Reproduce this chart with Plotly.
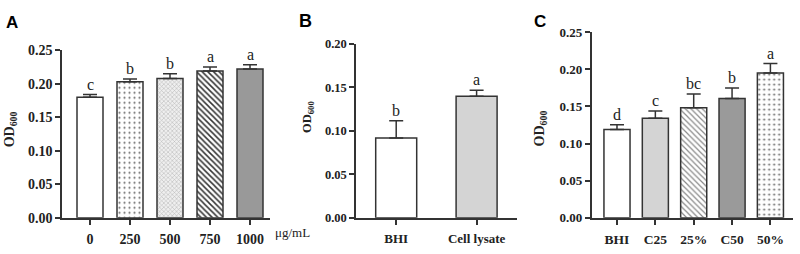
import plotly.graph_objects as go

# ---- data ----
a_cats = ["0", "250", "500", "750", "1000"]
a_vals = [0.180, 0.203, 0.208, 0.219, 0.222]
a_errs = [0.004, 0.004, 0.007, 0.006, 0.0065]
a_letters = ["c", "b", "b", "a", "a"]

b_cats = ["BHI", "Cell lysate"]
b_vals = [0.0917, 0.1397]
b_errs = [0.020, 0.007]
b_letters = ["b", "a"]

c_cats = ["BHI", "C25", "25%", "C50", "50%"]
c_vals = [0.119, 0.134, 0.148, 0.1605, 0.195]
c_errs = [0.0063, 0.0097, 0.0186, 0.0144, 0.0127]
c_letters = ["d", "c", "bc", "b", "a"]

SERIF = "Liberation Serif"
SANS = "Liberation Sans"
DARK = "#333333"

# bar styles: (fill colour, pattern shape, pattern colour, size, solidity)
a_styles = [("white", "", None, 0, 0),
            ("white", ".", "#6a6a6a", 5, 0.14),
            ("#efefef", "x", "#b0b0b0", 3, 0.3),
            ("white", "\\", "#333333", 4, 0.38),
            ("#999999", "", None, 0, 0)]
b_styles = [("white", "", None, 0, 0),
            ("#d4d4d4", "", None, 0, 0)]
c_styles = [("white", "", None, 0, 0),
            ("#d4d4d4", "", None, 0, 0),
            ("white", "\\", "#8a8a8a", 4, 0.3),
            ("#9a9a9a", "", None, 0, 0),
            ("white", ".", "#6a6a6a", 5, 0.14)]

fig = go.Figure()


def add_panel(cats, vals, errs, xa, ya, styles, width):
    for i, (c, v, e, st) in enumerate(zip(cats, vals, errs, styles)):
        color, shape, fg, size, sol = st
        marker = dict(color=color, line=dict(color=DARK, width=1.5))
        if shape:
            marker["pattern"] = dict(shape=shape, fgcolor=fg, bgcolor=color,
                                     size=size, solidity=sol, fillmode="replace")
        fig.add_trace(go.Bar(
            x=[i], y=[v], xaxis=xa, yaxis=ya, width=width, marker=marker,
            error_y=dict(type="data", symmetric=False, array=[e], arrayminus=[0],
                         color=DARK, thickness=1.5, width=7),
            showlegend=False, hoverinfo="skip",
        ))


add_panel(a_cats, a_vals, a_errs, "x", "y", a_styles, 0.65)
add_panel(b_cats, b_vals, b_errs, "x2", "y2", b_styles, 0.51)
add_panel(c_cats, c_vals, c_errs, "x3", "y3", c_styles, 0.68)

ax_common = dict(showline=True, linecolor=DARK, linewidth=1.5, ticks="outside",
                 ticklen=5, tickwidth=1.5, tickcolor=DARK, showgrid=False,
                 zeroline=False, fixedrange=True)


def xaxis(domain, rng, anchor, size, cats):
    return dict(ax_common, domain=domain, range=rng, anchor=anchor,
                tickmode="array", tickvals=list(range(len(cats))), ticktext=cats,
                ticklabelstandoff=3,
                tickfont=dict(family=SERIF, size=size, color="#222", weight="bold"))


def yaxis(domain, top, anchor, size):
    return dict(ax_common, domain=domain, range=[0, top], anchor=anchor, dtick=0.05,
                tickformat=".2f",
                tickfont=dict(family=SERIF, size=size, color="#222", weight="bold"))


fig.update_layout(
    width=800, height=254, margin=dict(l=0, r=0, t=0, b=0),
    paper_bgcolor="white", plot_bgcolor="white", barmode="overlay",
    xaxis=xaxis([0.0775, 0.3375], [-0.7, 4.5], "y", 14, a_cats),
    yaxis=yaxis([0.1181, 0.8189], 0.25, "x", 14),
    xaxis2=xaxis([0.445, 0.646], [-0.5, 1.5], "y2", 13, b_cats),
    yaxis2=yaxis([0.1181, 0.8453], 0.20, "x2", 12.5),
    xaxis3=xaxis([0.7396, 0.9913], [-0.66, 4.59], "y3", 13.5, c_cats),
    yaxis3=yaxis([0.1181, 0.8949], 0.25, "x3", 13),
)

ann = []
for cats, vals, errs, lets, xr, yr in [
    (a_cats, a_vals, a_errs, a_letters, "x", "y"),
    (b_cats, b_vals, b_errs, b_letters, "x2", "y2"),
    (c_cats, c_vals, c_errs, c_letters, "x3", "y3"),
]:
    for i, (v, e, l) in enumerate(zip(vals, errs, lets)):
        ann.append(dict(x=i, y=v + e, xref=xr, yref=yr, text=l, showarrow=False,
                        yanchor="bottom", yshift=0,
                        font=dict(family=SERIF, size=16, color="#222")))

# panel letters
for txt, x, y, s in [("A", 4, 4, 17), ("B", 297, 2, 18), ("C", 532, 3, 17)]:
    ann.append(dict(x=x / 800, y=1 - y / 254, xref="paper", yref="paper", text=txt,
                    showarrow=False, xanchor="left", yanchor="top",
                    font=dict(family=SANS, size=s, color="black", weight="bold")))

# y-axis titles
for x, y, s in [(10, 130, 14), (308, 117, 12.5), (540, 129, 14)]:
    ann.append(dict(x=x / 800, y=1 - y / 254, xref="paper", yref="paper",
                    text="OD<sub>600</sub>", textangle=-90, showarrow=False,
                    xanchor="center", yanchor="middle",
                    font=dict(family=SERIF, size=s, color="#222", weight="bold")))

# unit label
ann.append(dict(x=273 / 800, y=1 - 240 / 254, xref="paper", yref="paper",
                text="μg/mL", showarrow=False, xanchor="left", yanchor="middle",
                font=dict(family=SERIF, size=13, color="#222")))

fig.update_layout(annotations=ann)
fig.write_html("out.html")
